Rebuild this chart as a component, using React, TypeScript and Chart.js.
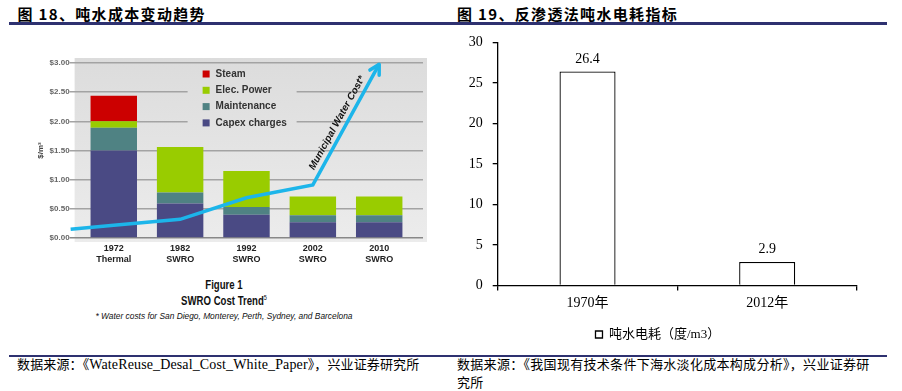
import React, { useEffect, useRef } from 'react';
import { Chart, registerables } from 'chart.js';

Chart.register(...registerables);

// ---- Figure 18: SWRO cost trend ($/m3) ----
const costYears = ['1972', '1982', '1992', '2002', '2010'];
const costProcess = ['Thermal', 'SWRO', 'SWRO', 'SWRO', 'SWRO'];
const capexCharges = [1.5, 0.59, 0.4, 0.27, 0.27];
const maintenanceCost = [0.39, 0.19, 0.13, 0.12, 0.12];
const elecPowerCost = [0.11, 0.78, 0.62, 0.32, 0.32];
const steamCost = [0.44, 0, 0, 0, 0];
const waterCostPos = [-0.65, 0, 1, 2, 3, 4];
const municipalWaterCost = [0.15, 0.22, 0.32, 0.69, 0.91, 2.98];
const costTickStep = 0.5;
const costMax = 3;

// ---- Figure 19: RO electricity per ton of water ----
const energyYears = ['1970年', '2012年'];
const energyPerTon = [26.4, 2.9];
const energyMax = 30;
const energyStep = 5;

const SANS = '"Liberation Sans", Arial, sans-serif';
const SERIF = '"Liberation Serif", "Noto Sans CJK SC", serif';
const CJK = '"Noto Sans CJK SC", sans-serif';
const LINE_BLUE = '#1cb5ea';

function panelFill(ctx: CanvasRenderingContext2D, a: any) {
  const g = ctx.createLinearGradient(0, a.top - 5, 0, a.bottom + 4);
  g.addColorStop(0, '#dcdcdc');
  g.addColorStop(1, '#ececec');
  return g;
}

const panelPlugin = {
  id: 'panel',
  beforeDraw(chart: any) {
    const { ctx, chartArea: a } = chart;
    ctx.save();
    ctx.fillStyle = panelFill(ctx, a);
    ctx.fillRect(a.left, a.top - 5, a.right + 4 - a.left, a.bottom + 9 - a.top);
    ctx.restore();
  },
};

const innerLegendPlugin = {
  id: 'innerLegend',
  beforeDatasetsDraw(chart: any) {
    const { ctx, chartArea: a } = chart;
    ctx.save();
    ctx.fillStyle = panelFill(ctx, a);
    ctx.fillRect(a.left + 113, a.top + 1, 109, 66);
    const bars = chart.data.datasets.filter((d: any) => d.type !== 'line').slice().reverse();
    ctx.font = `bold 10px ${SANS}`;
    ctx.textBaseline = 'middle';
    ctx.textAlign = 'left';
    bars.forEach((d: any, i: number) => {
      const y = a.top + 11 + i * 16.3;
      ctx.fillStyle = d.backgroundColor;
      ctx.fillRect(a.left + 128, y - 3.5, 7, 7);
      ctx.fillStyle = '#333';
      ctx.fillText(d.label, a.left + 141, y);
    });
    ctx.restore();
  },
};

const arrowPlugin = {
  id: 'arrowLabel',
  afterDatasetsDraw(chart: any) {
    const { ctx } = chart;
    const idx = chart.data.datasets.findIndex((d: any) => d.type === 'line');
    const pts = chart.getDatasetMeta(idx).data;
    const p3 = pts[pts.length - 2];
    const p4 = pts[pts.length - 1];
    const dx = p4.x - p3.x;
    const dy = p4.y - p3.y;
    const len = Math.hypot(dx, dy);
    const ang = Math.atan2(dy, dx);
    ctx.save();
    ctx.strokeStyle = LINE_BLUE;
    ctx.lineWidth = 3.5;
    ctx.lineCap = 'round';
    ctx.lineJoin = 'round';
    ctx.beginPath();
    ctx.moveTo(p4.x - 11 * Math.cos(ang - 0.5), p4.y - 11 * Math.sin(ang - 0.5));
    ctx.lineTo(p4.x, p4.y);
    ctx.lineTo(p4.x - 11 * Math.cos(ang + 0.5), p4.y - 11 * Math.sin(ang + 0.5));
    ctx.stroke();
    const ux = dx / len, uy = dy / len;
    const nx = uy, ny = -ux;
    const mx = (p3.x + p4.x) / 2 + nx * 8.6 - ux * 3;
    const my = (p3.y + p4.y) / 2 + ny * 8.6 - uy * 3;
    ctx.translate(mx, my);
    ctx.rotate(ang);
    ctx.font = `italic bold 10px ${SANS}`;
    ctx.fillStyle = '#111';
    ctx.textAlign = 'center';
    ctx.textBaseline = 'middle';
    ctx.fillText(chart.data.datasets[idx].label, 0, 0);
    ctx.restore();
  },
};

const valueLabelPlugin = {
  id: 'valueLabels',
  afterDatasetsDraw(chart: any) {
    const { ctx } = chart;
    ctx.save();
    ctx.font = `14px ${SERIF}`;
    ctx.fillStyle = '#000';
    ctx.textAlign = 'center';
    ctx.textBaseline = 'alphabetic';
    chart.getDatasetMeta(0).data.forEach((bar: any, i: number) => {
      ctx.fillText(String(chart.data.datasets[0].data[i]), bar.x, bar.y - 9);
    });
    ctx.restore();
  },
};

export default function App() {
  const leftRef = useRef<HTMLCanvasElement>(null);
  const rightRef = useRef<HTMLCanvasElement>(null);

  useEffect(() => {
    const toPts = (vals: number[]) => vals.map((y, i) => ({ x: i, y }));
    const left = new Chart(leftRef.current as HTMLCanvasElement, {
      type: 'bar',
      data: {
        datasets: [
          {
            type: 'line',
            label: 'Municipal Water Cost*',
            data: waterCostPos.map((x, i) => ({ x, y: municipalWaterCost[i] })),
            borderColor: LINE_BLUE,
            borderWidth: 3.5,
            pointRadius: 0,
            tension: 0,
            clip: false,
            order: 0,
            stack: 'water',
          } as any,
          { label: 'Capex charges', data: toPts(capexCharges), backgroundColor: '#4a4a84', stack: 'cost', order: 1 },
          { label: 'Maintenance', data: toPts(maintenanceCost), backgroundColor: '#4f8283', stack: 'cost', order: 1 },
          { label: 'Elec. Power', data: toPts(elecPowerCost), backgroundColor: '#99cc00', stack: 'cost', order: 1 },
          { label: 'Steam', data: toPts(steamCost), backgroundColor: '#cc0000', stack: 'cost', order: 1 },
        ],
      },
      options: {
        animation: false,
        responsive: false,
        events: [],
        layout: { padding: { left: 12, top: 13, right: 17, bottom: 4.5 } },
        datasets: { bar: { categoryPercentage: 1, barPercentage: 0.7 } },
        plugins: { legend: { display: false }, tooltip: { enabled: false } },
        scales: {
          x: {
            type: 'linear',
            offset: false,
            min: -0.59,
            max: 4.66,
            afterBuildTicks: (s: any) => {
              s.ticks = costYears.map((_, i) => ({ value: i }));
            },
            ticks: {
              autoSkip: false,
              maxRotation: 0,
              padding: 5,
              color: '#222',
              font: { family: SANS, size: 9, weight: 'bold', lineHeight: 1.25 },
              callback: (v: any) => [costYears[v], costProcess[v]],
            },
            grid: { display: false, drawTicks: false },
            border: { display: false },
          },
          y: {
            stacked: true,
            min: 0,
            max: costMax,
            ticks: {
              stepSize: costTickStep,
              padding: 0,
              color: '#666',
              font: { family: SANS, size: 8, weight: 'bold' },
              callback: (v: any) => '$' + Number(v).toFixed(2),
            },
            grid: {
              color: (c: any) => (c.tick && c.tick.value === 0 ? '#888' : '#a3a3a3'),
              lineWidth: 1.5,
              tickLength: 5,
            },
            border: { display: false },
            title: {
              display: true,
              text: '$/m³',
              color: '#444',
              font: { family: SANS, size: 8, weight: 'bold' },
              padding: 4,
            },
          },
        },
      } as any,
      plugins: [panelPlugin, innerLegendPlugin, arrowPlugin],
    });

    const right = new Chart(rightRef.current as HTMLCanvasElement, {
      type: 'bar',
      data: {
        labels: energyYears,
        datasets: [
          {
            label: '吨水电耗（度/m3）',
            data: energyPerTon,
            backgroundColor: '#ffffff',
            borderColor: '#000000',
            borderWidth: 1.3,
            barPercentage: 0.39,
            categoryPercentage: 0.8,
          },
        ],
      },
      options: {
        animation: false,
        responsive: false,
        events: [],
        layout: { padding: { left: 8.7, top: 6, right: 39, bottom: 4 } },
        plugins: {
          tooltip: { enabled: false },
          legend: {
            position: 'bottom',
            labels: {
              boxWidth: 7,
              boxHeight: 7,
              padding: 11.75,
              color: '#000',
              font: { family: SERIF, size: 13 },
            },
          },
        },
        scales: {
          x: {
            ticks: { color: '#000', padding: 4.5, font: { family: SERIF, size: 14 } },
            grid: { drawOnChartArea: false, tickLength: 5, color: '#000', lineWidth: 1.3 },
            border: { color: '#000', width: 1.3 },
          },
          y: {
            min: 0,
            max: energyMax,
            ticks: { stepSize: energyStep, color: '#000', padding: 10, font: { family: SERIF, size: 14 } },
            grid: { drawOnChartArea: false, tickLength: 5, color: '#000', lineWidth: 1.3 },
            border: { color: '#000', width: 1.3 },
          },
        },
      } as any,
      plugins: [valueLabelPlugin],
    });

    return () => {
      left.destroy();
      right.destroy();
    };
  }, []);

  const abs = (s: React.CSSProperties): React.CSSProperties => ({ position: 'absolute', ...s });
  const titleStyle: React.CSSProperties = {
    fontFamily: CJK,
    fontSize: 15,
    fontWeight: 700,
    letterSpacing: 1.33,
    lineHeight: '20px',
    whiteSpace: 'pre',
    color: '#000',
  };
  const srcStyle: React.CSSProperties = {
    fontFamily: SERIF,
    fontSize: 13,
    lineHeight: '18px',
    whiteSpace: 'pre',
    color: '#000',
  };
  const cap = (top: number, sx: number, extra: React.CSSProperties): React.CSSProperties =>
    abs({
      left: 0,
      width: 448,
      top,
      textAlign: 'center',
      fontFamily: SANS,
      color: '#111',
      transform: `scaleX(${sx})`,
      transformOrigin: '224px 50%',
      whiteSpace: 'pre',
      ...extra,
    });

  return (
    <div style={{ position: 'fixed', left: 0, top: 0, width: 902, height: 391, background: '#fff', overflow: 'hidden' }}>
      <div style={abs({ left: 17.5, top: 4, ...titleStyle })}>图 18、吨水成本变动趋势</div>
      <div style={abs({ left: 457, top: 4, ...titleStyle })}>图 19、反渗透法吨水电耗指标</div>
      <div style={abs({ left: 9, top: 22, width: 878, height: 2.5, background: '#2e3170' })} />

      <canvas ref={leftRef} width={420} height={225} style={abs({ left: 20, top: 50, width: 420, height: 225 })} />
      <canvas ref={rightRef} width={446} height={331} style={abs({ left: 450, top: 24.3, width: 446, height: 331 })} />

      <div style={cap(278, 0.8, { fontWeight: 700, fontSize: 12, lineHeight: '15px' })}>Figure 1</div>
      <div style={cap(294, 0.8, { fontWeight: 700, fontSize: 12, lineHeight: '15px' })}>
        SWRO Cost Trend<sup style={{ fontSize: 7, fontWeight: 400, verticalAlign: 'super', lineHeight: 0 }}>5</sup>
      </div>
      <div style={cap(310, 0.88, { fontStyle: 'italic', fontSize: 9.5, lineHeight: '12px' })}>
        * Water costs for San Diego, Monterey, Perth, Sydney, and Barcelona
      </div>

      <div style={abs({ left: 9, top: 354.5, width: 878, height: 2.5, background: '#2e3170' })} />
      <div style={abs({ left: 17, top: 356, letterSpacing: 0.13, ...srcStyle })}>
        数据来源：《<span style={{ fontSize: 14 }}>WateReuse_Desal_Cost_White_Paper</span>》，兴业证券研究所
      </div>
      <div style={abs({ left: 457, top: 356, letterSpacing: 0.3, ...srcStyle })}>
        数据来源：《我国现有技术条件下海水淡化成本构成分析》，兴业证券研
        <br />
        究所
      </div>
    </div>
  );
}
